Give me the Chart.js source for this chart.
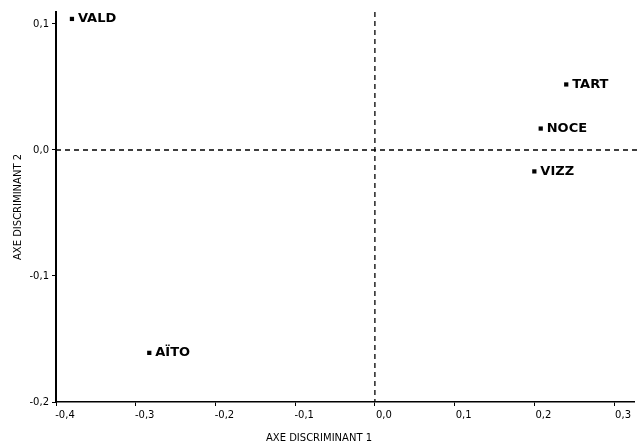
<!DOCTYPE html>
<html>
<head>
<meta charset="utf-8">
<script src="https://cdn.jsdelivr.net/npm/chart.js@4/dist/chart.umd.min.js"></script>
<style>
  html, body { margin: 0; padding: 0; background: #fff; }
  #wrap { width: 641px; height: 447px; }
</style>
</head>
<body>
<div id="wrap"><canvas id="chart"></canvas></div>
<script>
// groupes projetés sur les axes discriminants
const groups = ['VALD', 'TART', 'NOCE', 'VIZZ', 'AÏTO'];
const axis1 = [-0.38, 0.240, 0.208, 0.200, -0.283];
const axis2 = [0.104, 0.052, 0.017, -0.017, -0.161];

const xTicks = [-0.4, -0.3, -0.2, -0.1, 0.0, 0.1, 0.2, 0.3];
const yTicks = [-0.2, -0.1, 0.0, 0.1];

const xTitle = 'AXE DISCRIMINANT 1';
const yTitle = 'AXE DISCRIMINANT 2';

const FONT = "'DejaVu Sans', sans-serif";

function fmt(v) {
    return v.toFixed(1).replace('.', ',');
}

// lignes pointillées à zéro
const zeroLines = {
    id: 'zeroLines',
    beforeDatasetsDraw(chart) {
        const { ctx, chartArea, scales } = chart;
        const x0 = scales.x.getPixelForValue(0);
        const y0 = scales.y.getPixelForValue(0);
        ctx.save();
        ctx.strokeStyle = '#000';
        ctx.lineWidth = 1.3;
        ctx.setLineDash([5, 4]);
        ctx.beginPath();
        ctx.moveTo(x0, chartArea.top);
        ctx.lineTo(x0, chartArea.bottom);
        ctx.moveTo(chartArea.left, y0);
        ctx.lineTo(chart.width, y0);
        ctx.stroke();
        ctx.restore();
    }
};

// étiquettes des points + titre de l'axe 1
const pointLabels = {
    id: 'pointLabels',
    afterDatasetsDraw(chart) {
        const { ctx } = chart;
        const meta = chart.getDatasetMeta(0);
        ctx.save();
        ctx.fillStyle = '#000';
        ctx.font = 'bold 13px ' + FONT;
        ctx.textBaseline = 'middle';
        meta.data.forEach((pt, i) => {
            ctx.fillText(groups[i], pt.x + 6, pt.y);
        });
        ctx.font = '10px ' + FONT;
        ctx.textAlign = 'center';
        ctx.fillText(xTitle, 319, 438);
        ctx.restore();
    }
};

new Chart(document.getElementById('chart').getContext('2d'), {
    type: 'scatter',
    data: {
        datasets: [{
            data: groups.map((g, i) => ({ x: axis1[i], y: axis2[i] })),
            pointStyle: 'rect',
            pointRadius: 3,
            backgroundColor: '#000',
            borderColor: '#000',
            borderWidth: 0
        }]
    },
    options: {
        responsive: true,
        maintainAspectRatio: false,
        animation: false,
        layout: { padding: { top: 12, right: 7, left: 0, bottom: 0 } },
        plugins: {
            legend: { display: false },
            tooltip: { enabled: false }
        },
        scales: {
            x: {
                type: 'linear',
                min: -0.4,
                max: 0.325,
                afterBuildTicks: (s) => { s.ticks = xTicks.map(v => ({ value: v })); },
                afterFit: (s) => { s.height = 45; },
                border: { display: true, color: '#000', width: 1.5 },
                grid: { drawOnChartArea: false, drawTicks: true, tickLength: 4, color: '#000' },
                ticks: {
                    callback: (v) => fmt(v),
                    color: '#000',
                    labelOffset: 9,
                    padding: 3,
                    maxRotation: 0,
                    font: { family: FONT, size: 10 }
                }
            },
            y: {
                type: 'linear',
                min: -0.2,
                max: 0.1095,
                afterBuildTicks: (s) => { s.ticks = yTicks.map(v => ({ value: v })); },
                afterFit: (s) => { s.width = 56; },
                border: { display: true, color: '#000', width: 2 },
                grid: { drawOnChartArea: false, drawTicks: true, tickLength: 4, color: '#000' },
                ticks: {
                    callback: (v) => fmt(v),
                    color: '#000',
                    padding: 3,
                    font: { family: FONT, size: 10 }
                },
                title: {
                    display: true,
                    text: yTitle,
                    color: '#000',
                    padding: { top: 12, bottom: 0 },
                    font: { family: FONT, size: 10 }
                }
            }
        }
    },
    plugins: [zeroLines, pointLabels]
});
</script>
</body>
</html>
